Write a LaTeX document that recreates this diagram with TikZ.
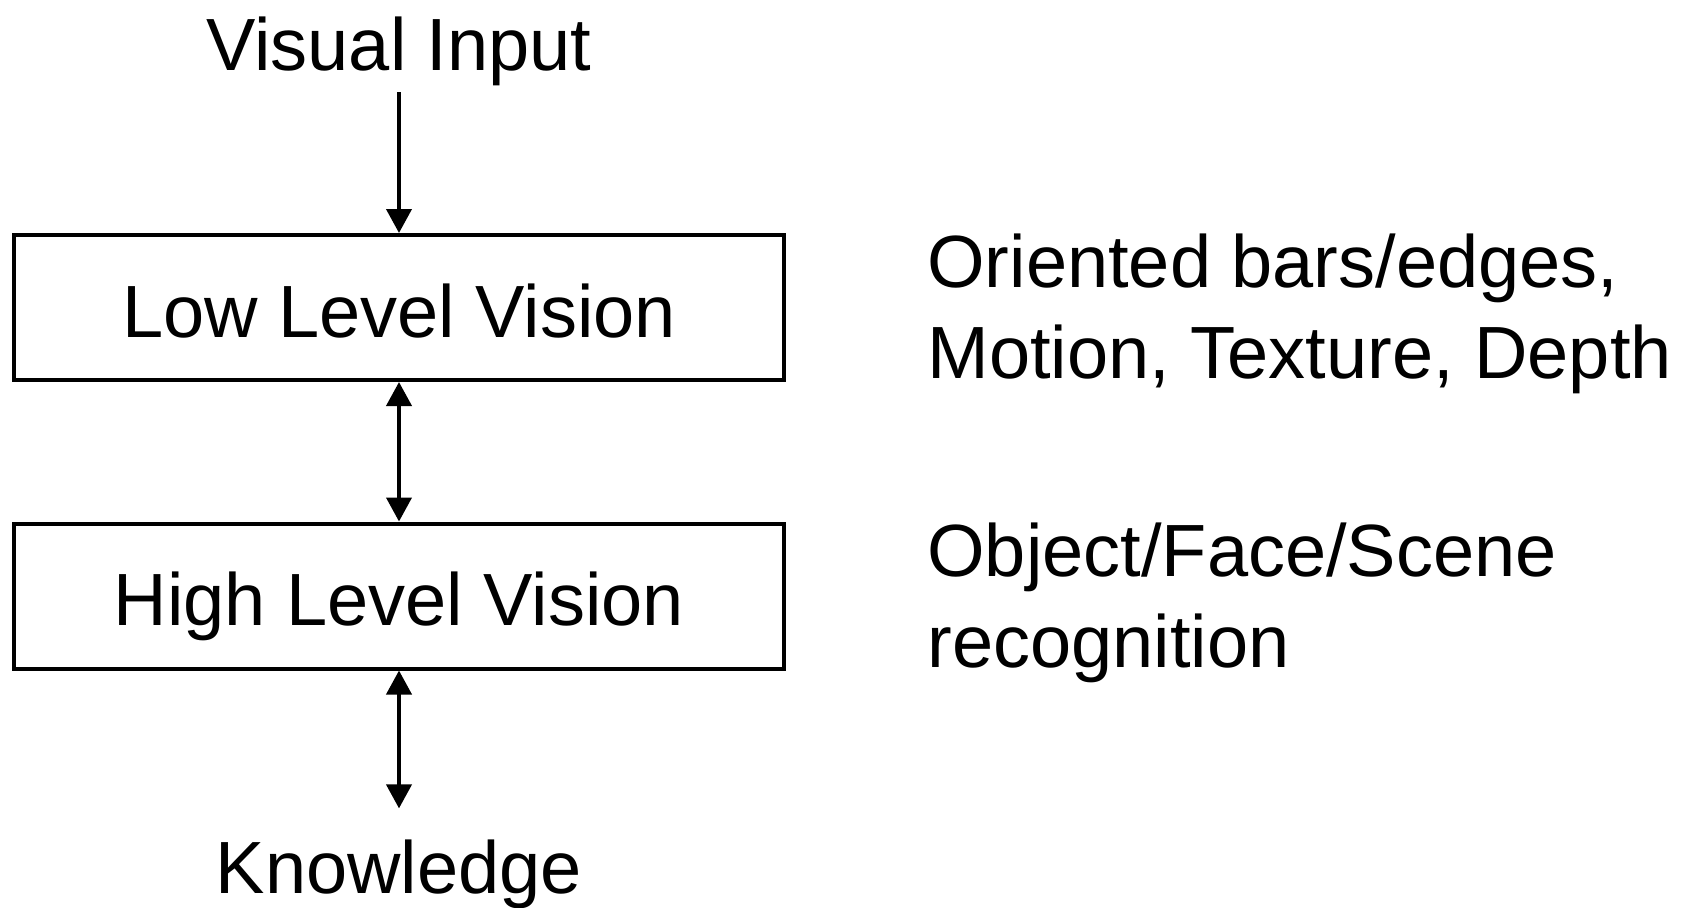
\documentclass[tikz,border=0pt]{standalone}
\usepackage{fontspec}
\setmainfont{Liberation Sans}
\usetikzlibrary{arrows.meta,positioning}
\tikzset{>={Triangle[length=12pt,width=12.5pt]}}
\newcommand{\bigtext}{\fontsize{37}{45.5}\selectfont}
\tikzstyle{stage} = [rectangle, minimum width=385pt, minimum height=72.5pt, inner sep=0pt, text height=29.5pt, text depth=0pt, text centered, draw=black, line width=2pt, font=\bigtext]
\tikzstyle{endpoint} = [inner sep=3.3pt, font=\bigtext]
\tikzstyle{note} = [inner sep=0pt, align=left, font=\bigtext]
\tikzstyle{arrow} = [line width=2pt,->]

\begin{document}
\begin{tikzpicture}[x=0.5pt,y=-0.5pt]

\useasboundingbox (0,0) rectangle (1691,907);

\node (low) [stage] at (399,307.5) {Low Level Vision};

\node (high) [stage] at (399,596) {High Level Vision};

\node (input) [endpoint, anchor=base] at (399,70) {Visual Input};

\node (know) [endpoint, anchor=base] at (399,893) {Knowledge};

% base anchor sits on the last line
\node (lowfeat) [note, anchor=base west] at (927,378) {Oriented bars/edges,\\Motion, Texture, Depth};
\node (highfeat) [note, anchor=base west] at (927,667) {Object/Face/Scene\\recognition};

\draw [arrow] (input) -- (low);
\draw [arrow,<->] (low) -- (high);
\draw [arrow,<->,shorten >=12pt] (high) -- (know);

\end{tikzpicture}
\end{document}
